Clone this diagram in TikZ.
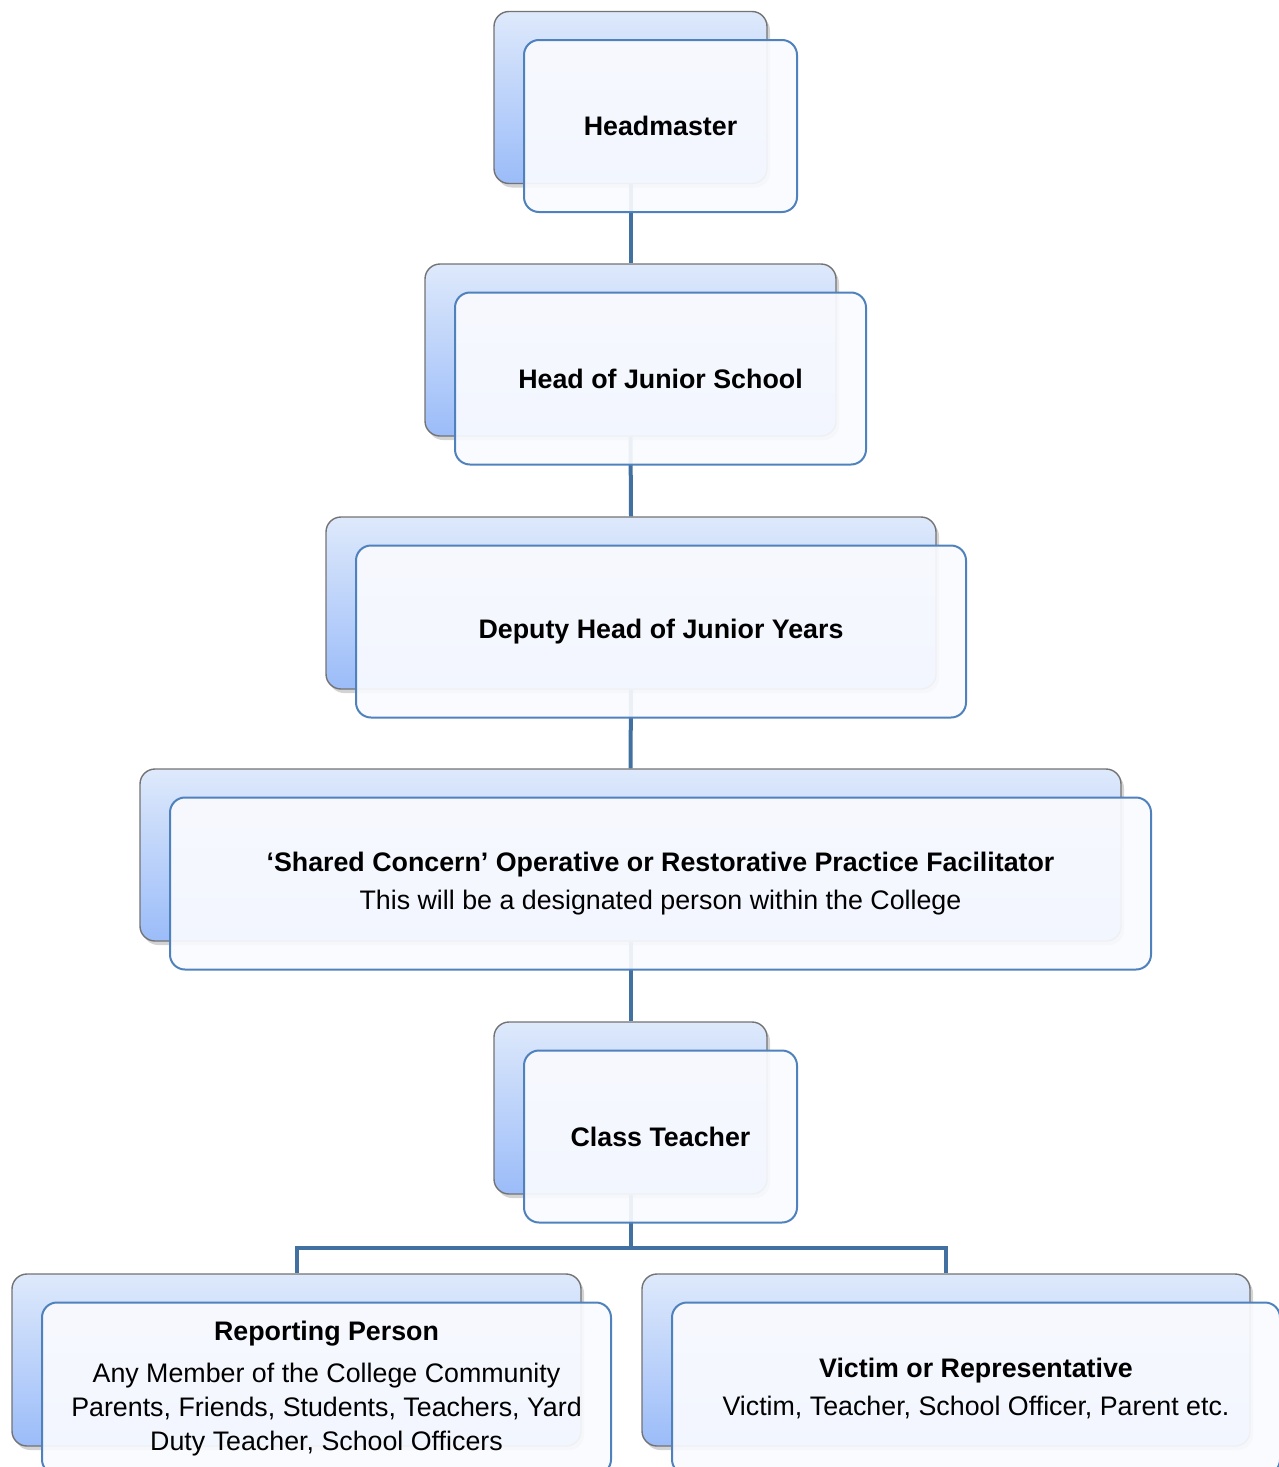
\documentclass[tikz,border=0pt]{standalone}
\usepackage{fontspec}
\setmainfont{Liberation Sans}
\usetikzlibrary{positioning,calc,shadows}

\definecolor{linkblue}{RGB}{66,112,160}
\definecolor{frameblue}{RGB}{79,129,189}
\definecolor{topblue}{RGB}{222,233,251}
\definecolor{botblue}{RGB}{155,188,249}
\definecolor{paleface}{RGB}{250,251,255}

\begin{document}
\begin{tikzpicture}[x=0.5pt, y=-0.5pt,
    backbox/.style={draw=black!55, line width=0.7pt, rounded corners=7.5pt,
        top color=topblue, bottom color=botblue, minimum height=86pt, inner sep=0pt,
        drop shadow={shadow xshift=1.5pt, shadow yshift=-2pt, opacity=0.35}},
    frontbox/.style={draw=frameblue, line width=1pt, rounded corners=7.5pt,
        fill=paleface, fill opacity=0.92, text opacity=1, minimum height=86pt,
        inner sep=0pt, align=center, font=\fontsize{13.4}{17}\selectfont},
    link/.style={draw=linkblue, line width=2pt}]
    \useasboundingbox (0,0) rectangle (1279,1467);

    % back cards
    \foreach \n/\x/\y/\w in {hm/630.5/97.5/136.5, hs/630.5/350/205.5, dh/631/603/305,
                             sc/630.5/855/490.5, ct/630.5/1108/136.5,
                             rp/296.5/1360/284.5, vr/946/1360/304} {
        \node[backbox, minimum width=\w pt] (\n B) at (\x,\y) {};
    }

    % connectors
    \foreach \a/\b in {hm/hs, hs/dh, dh/sc, sc/ct} {
        \draw[link] (\a B.south) -- (\b B.north);
    }
    \coordinate (split) at ($(ctB.south)+(0,53)$);
    \draw[link] (ctB.south) -- (split) -| (rpB.north);
    \draw[link] (split) -| (vrB.north);

    % front cards
    \node[frontbox, minimum width=136.5pt] (hm) at ($(hmB)+(30,28.5)$) {\textbf{Headmaster}};
    \node[frontbox, minimum width=205.5pt] (hs) at ($(hsB)+(30,28.5)$) {\textbf{Head of Junior School}};
    \node[frontbox, minimum width=305pt] (dh) at ($(dhB)+(30,28.5)$) {\textbf{Deputy Head of Junior Years}};
    \node[frontbox, minimum width=490.5pt] (sc) at ($(scB)+(30,28.5)$)
        {\textbf{‘Shared Concern’ Operative or Restorative Practice Facilitator}\\[2pt]
         This will be a designated person within the College};
    \node[frontbox, minimum width=136.5pt] (ct) at ($(ctB)+(30,28.5)$) {\textbf{Class Teacher}};
    \node[frontbox, minimum width=284.5pt] (rp) at ($(rpB)+(30,28.5)$)
        {\textbf{Reporting Person}\\[4pt]
         Any Member of the College Community\\
         Parents, Friends, Students, Teachers, Yard\\
         Duty Teacher, School Officers};
    \node[frontbox, minimum width=304pt] (vr) at ($(vrB)+(30,28.5)$)
        {\textbf{Victim or Representative}\\[2pt]
         Victim, Teacher, School Officer, Parent etc.};
\end{tikzpicture}
\end{document}
